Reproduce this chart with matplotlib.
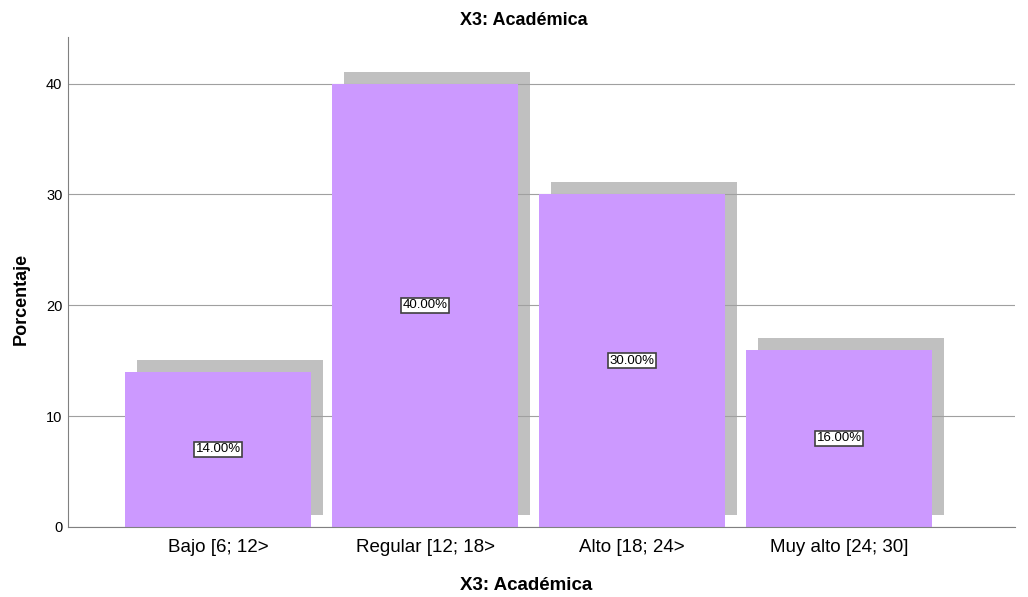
import matplotlib
matplotlib.use("Agg")
import matplotlib.pyplot as plt
import numpy as np

plt.rcParams["font.family"] = ["Liberation Sans", "DejaVu Sans"]

# Datos
categorias = ["Bajo [6; 12>", "Regular [12; 18>", "Alto [18; 24>", "Muy alto [24; 30]"]
porcentajes = [14.0, 40.0, 30.0, 16.0]
etiquetas = ["14.00%", "40.00%", "30.00%", "16.00%"]

fig = plt.figure(figsize=(10.28, 5.97), dpi=100)
ax = fig.add_axes([0.0661, 0.1173, 0.9213, 0.8207])

x = np.arange(len(categorias))
ancho = 0.9
dx, dy = 0.058, 1.08

# Sombra
ax.bar(x + dx, porcentajes, width=ancho, bottom=dy, color="#c0c0c0", zorder=1)
# Barras
ax.bar(x, porcentajes, width=ancho, color="#cc99ff", zorder=3)

for xi, v, t in zip(x, porcentajes, etiquetas):
    ax.text(xi, v / 2, t, ha="center", va="center", fontsize=9.5, zorder=4,
            bbox=dict(boxstyle="square,pad=0.12", facecolor="white", edgecolor="#404040", linewidth=1.2))

ax.set_xlim(-0.725, 3.85)
ax.set_ylim(0, 44.2)
ax.set_yticks([0, 10, 20, 30, 40])
ax.set_xticks(x)
ax.set_xticklabels(categorias, fontsize=13.5)
ax.tick_params(axis="y", labelsize=10.5, length=0, pad=4)
ax.tick_params(axis="x", length=0, pad=9)
ax.yaxis.grid(True, color="#a0a0a0", linewidth=0.8)
for l in ax.get_ygridlines():
    l.set_zorder(2)

for s in ["top", "right"]:
    ax.spines[s].set_visible(False)
ax.spines["left"].set_color("#808080")
ax.spines["bottom"].set_color("#808080")
ax.spines["bottom"].set_zorder(5)

# Títulos centrados respecto a la figura (como en SPSS)
fig.text(0.51, 0.966, "X3: Académica", ha="center", va="center", fontsize=13, fontweight="bold")
fig.text(0.512, 0.02, "X3: Académica", ha="center", va="center", fontsize=13.5, fontweight="bold")
fig.text(0.0204, 0.5, "Porcentaje", ha="center", va="center", rotation=90, fontsize=13, fontweight="bold")

plt.savefig("out.png", dpi=100)
